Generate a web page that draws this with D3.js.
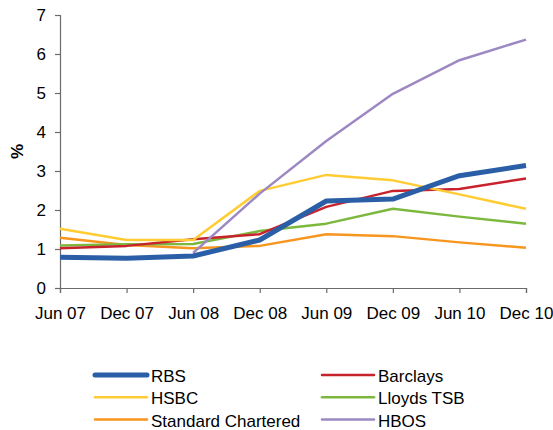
<!DOCTYPE html>
<html>
<head>
<meta charset="utf-8">
<script src="https://cdn.jsdelivr.net/npm/d3@7"></script>
<style>
  body { margin: 0; background: #fff; }
  svg { font-family: "Liberation Sans", Arial, sans-serif; }
</style>
</head>
<body>
<div id="wrapper"></div>
<script>
/* DATA */
const periods = ['Jun 07', 'Dec 07', 'Jun 08', 'Dec 08', 'Jun 09', 'Dec 09', 'Jun 10', 'Dec 10'];
const yTicks = [0, 1, 2, 3, 4, 5, 6, 7];

const rbs = [0.79, 0.76, 0.82, 1.23, 2.23, 2.28, 2.88, 3.14];
const barclays = [1.02, 1.08, 1.25, 1.38, 2.08, 2.49, 2.54, 2.81];
const hsbc = [1.52, 1.23, 1.23, 2.49, 2.90, 2.76, 2.40, 2.03];
const lloyds = [1.09, 1.12, 1.13, 1.46, 1.65, 2.03, 1.83, 1.65];
const standardChartered = [1.29, 1.10, 1.02, 1.08, 1.38, 1.33, 1.17, 1.03];
const hbos = [null, null, 0.9, 2.42, 3.77, 4.98, 5.84, 6.37];

const series = [
  { name: 'Standard Chartered', values: standardChartered, color: '#f7961e', width: 2.5 },
  { name: 'Lloyds TSB', values: lloyds, color: '#7db83e', width: 2.5 },
  { name: 'Barclays', values: barclays, color: '#c8232c', width: 2.5 },
  { name: 'HSBC', values: hsbc, color: '#ffcc33', width: 2.5 },
  { name: 'HBOS', values: hbos, color: '#9c88c2', width: 2.5 },
  { name: 'RBS', values: rbs, color: '#2a5ea6', width: 5 },
];

// legend layout order (row by row, left then right)
const legendOrder = ['RBS', 'Barclays', 'HSBC', 'Lloyds TSB', 'Standard Chartered', 'HBOS'];

/* DIMENSIONS */
const dimensions = {
  width: 553,
  height: 430,
  margin: { top: 15, left: 60 },
  boundedWidth: 466,
  boundedHeight: 273,
};

/* SCALES */
const xScale = d3.scalePoint()
  .domain(periods)
  .range([0, dimensions.boundedWidth]);

const yScale = d3.scaleLinear()
  .domain([0, 7])
  .range([dimensions.boundedHeight, 0]);

/* DRAW */
const svg = d3.select('#wrapper')
  .append('svg')
  .attr('width', dimensions.width)
  .attr('height', dimensions.height);

const bounds = svg.append('g')
  .attr('transform', `translate(${dimensions.margin.left},${dimensions.margin.top})`);

// axes
const yAxis = bounds.append('g')
  .call(d3.axisLeft(yScale).tickValues(yTicks).tickSize(5).tickFormat(d3.format('d')));

const xAxis = bounds.append('g')
  .attr('transform', `translate(0,${dimensions.boundedHeight})`)
  .call(d3.axisBottom(xScale).tickSize(5).tickPadding(14));

[yAxis, xAxis].forEach(ax => {
  ax.select('.domain').attr('stroke', '#6b6b6b').attr('stroke-width', 1.2);
  ax.selectAll('.tick line').attr('stroke', '#6b6b6b').attr('stroke-width', 1.2);
  ax.selectAll('.tick text')
    .attr('fill', '#000')
    .attr('font-size', 17)
    .attr('font-family', '"Liberation Sans", Arial, sans-serif');
});
yAxis.selectAll('.tick text').attr('x', -14);

// y label
bounds.append('text')
  .attr('transform', `translate(-37,${dimensions.boundedHeight / 2}) rotate(-90)`)
  .attr('text-anchor', 'middle')
  .attr('font-size', 17)
  .attr('font-weight', 'bold')
  .text('%');

// lines
const line = d3.line()
  .defined(d => d.v != null)
  .x(d => xScale(d.p))
  .y(d => yScale(d.v));

bounds.append('g')
  .selectAll('path')
  .data(series)
  .join('path')
  .attr('fill', 'none')
  .attr('stroke', d => d.color)
  .attr('stroke-width', d => d.width)
  .attr('stroke-linejoin', 'round')
  .attr('d', d => line(d.values.map((v, i) => ({ p: periods[i], v }))));

// legend
const legend = svg.append('g').attr('transform', 'translate(95,375)');
const legendItems = legend.selectAll('g')
  .data(legendOrder.map(n => series.find(s => s.name === n)))
  .join('g')
  .attr('transform', (d, i) => `translate(${(i % 2) * 227},${Math.floor(i / 2) * 22.3})`);

legendItems.append('line')
  .attr('x1', 0)
  .attr('x2', 52)
  .attr('stroke', d => d.color)
  .attr('stroke-width', d => d.width)
  .attr('stroke-linecap', 'round');

legendItems.append('text')
  .attr('x', 56)
  .attr('y', 7)
  .attr('font-size', 17)
  .text(d => d.name);
</script>
</body>
</html>
